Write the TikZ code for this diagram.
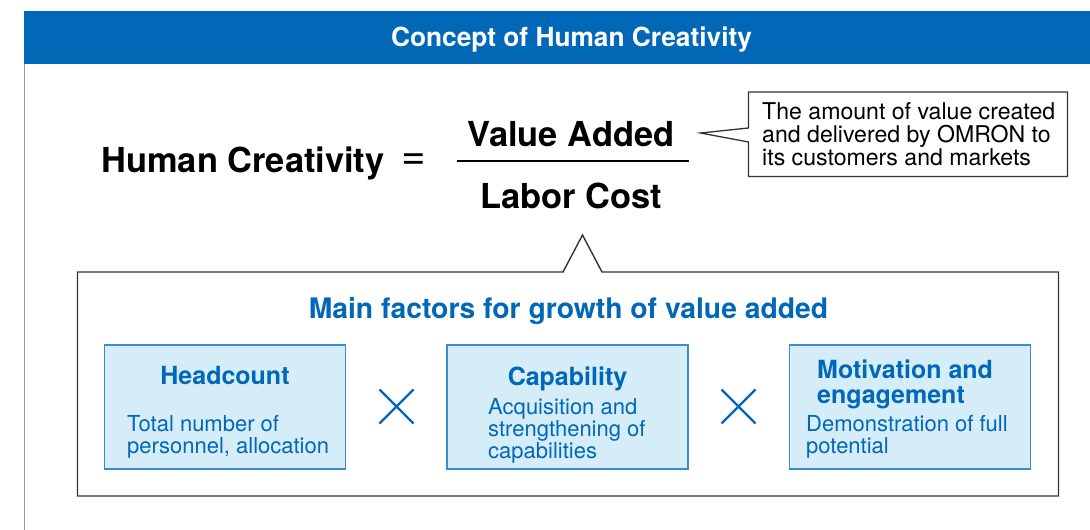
\documentclass[tikz,border=0pt]{standalone}
\usepackage{fontspec}
\setmainfont{TeX Gyre Heros}
\definecolor{omronblue}{HTML}{0068B7}
\definecolor{factorfill}{HTML}{D5ECF9}
\definecolor{factorline}{HTML}{3D8CCB}
\newcommand{\pxfont}[2]{\fontsize{#1}{#2}\selectfont}
\begin{document}
\begin{tikzpicture}[x=1pt, y=-1pt,
  factorbox/.style={draw=factorline, fill=factorfill, line width=1.3pt,
    minimum width=241pt, minimum height=124pt, inner sep=0pt},
  boxhead/.style={omronblue, font=\pxfont{25}{25}\bfseries, inner sep=0pt},
  boxtext/.style={omronblue, font=\pxfont{22}{22}, inner sep=0pt, align=left, anchor=base west},
  bigterm/.style={font=\pxfont{34.4}{34}\bfseries, inner sep=0pt, anchor=base},
  crossmark/.style={omronblue, line width=2.2pt}]
  % one unit is one pixel of the 1090x530 sheet, y grows downwards;
  % a node of several lines sits on the baseline of its last line
  \useasboundingbox (0,0) rectangle (1090,530);
  \fill[omronblue] (23.5,11) rectangle (1090,63.5);
  \node[white, font=\pxfont{26.3}{26}\bfseries, anchor=base, inner sep=0pt] (title) at (571.5,46) {Concept of Human Creativity};
  \draw[black!40, line width=1.8pt] (24.5,63.5) -- (24.5,530);
  % the formula and its note
  \node[bigterm] (creativity) at (243,172) {Human Creativity};
  \node[font=\pxfont{42}{42}, inner sep=0pt] (equals) at (414,162) {=};
  \node[bigterm] (value) at (571,146) {Value Added};
  \node[bigterm] (labor) at (571,208) {Labor Cost};
  \draw[line width=1.3pt] (457,161) -- (689,161);
  \draw[black!80, line width=1.3pt] (748.5,92) -- (1067.5,92) -- (1067.5,176.5) -- (748.5,176.5)
    -- (748.5,142) -- (700.5,133) -- (748.5,128) -- cycle;
  \node[anchor=base west, align=left, inner sep=0pt, font=\pxfont{23.1}{23}] (note) at (762,165.5)
    {The amount of value created\\and delivered by OMRON to\\its customers and markets};
  % the factors
  \draw[black!80, line width=1.4pt] (77.5,272) -- (563,272) -- (582.5,235) -- (602,272)
    -- (1058.5,272) -- (1058.5,496) -- (77.5,496) -- cycle;
  \node[omronblue, font=\pxfont{28.3}{28}\bfseries, anchor=base, inner sep=0pt] (factors) at (568.5,318)
    {Main factors for growth of value added};
  \node[factorbox] (headcount) at (225,407) {};
  \node[factorbox] (capability) at (567.5,407) {};
  \node[factorbox] (motivation) at (910,407) {};
  \node[boxhead, anchor=base] (hchead) at (225,384) {Headcount};
  \node[boxtext] (hctext) at (127,453) {Total number of\\personnel, allocation};
  \node[boxhead, anchor=base] (caphead) at (567.5,385) {Capability};
  \node[boxtext] (captext) at (488,458) {Acquisition and\\strengthening of\\capabilities};
  \node[boxhead, anchor=base west, align=left] (mothead) at (817,403) {Motivation and\\engagement};
  \node[boxtext] (mottext) at (806,453) {Demonstration of full\\potential};
  \draw[crossmark] (379.5,389.5) -- (413.5,423.5) (379.5,423.5) -- (413.5,389.5);
  \draw[crossmark] (721.5,389.5) -- (755.5,423.5) (721.5,423.5) -- (755.5,389.5);
\end{tikzpicture}
\end{document}
